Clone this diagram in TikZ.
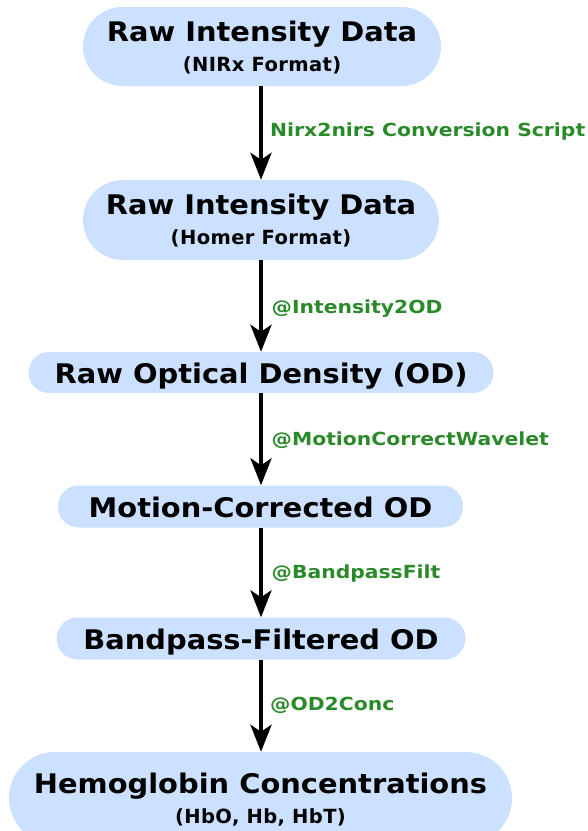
\documentclass[tikz,border=0pt]{standalone}
\usepackage{fontspec}
\setmainfont{DejaVu Sans}
\newfontfamily\titlefam{DejaVu Sans}[FakeStretch=1.07]
\newfontfamily\subfam{DejaVu Sans}[LetterSpace=2]
\newfontfamily\stepfam{DejaVu Sans}[FakeStretch=1.13]
\usetikzlibrary{arrows.meta}
\definecolor{boxfill}{HTML}{CCE0FF}
\definecolor{steplabel}{HTML}{2A8A2A}
\begin{document}
\begin{tikzpicture}[x=1pt,y=-1pt,
  stagebox/.style={fill=boxfill, draw=none, rounded corners=#1, inner sep=0pt},
  stagetitle/.style={anchor=base, inner sep=0pt, text=black, font=\titlefam\bfseries\fontsize{27}{30}\selectfont},
  stagesub/.style={anchor=base, inner sep=0pt, text=black, font=\subfam\bfseries\fontsize{19.5}{22}\selectfont},
  flow/.style={line width=4pt, -{Stealth[length=27pt,width=21pt,inset=7pt]}},
  steptext/.style={anchor=base west, text=steplabel, inner sep=0pt, font=\stepfam\bfseries\fontsize{18}{21}\selectfont}
]
\useasboundingbox (0,0) rectangle (588,831);

% stages of the processing pipeline
\node[stagebox=39.5pt, minimum width=358pt, minimum height=79pt] (raw) at (262,46.5) {};
\node[stagetitle] (rawT) at (262,41) {Raw Intensity Data};
\node[stagesub] (rawS) at (262,71) {(NIRx Format)};

\node[stagebox=40pt, minimum width=356pt, minimum height=80pt] (homer) at (261,220) {};
\node[stagetitle] (homerT) at (261,214.5) {Raw Intensity Data};
\node[stagesub] (homerS) at (261,244.5) {(Homer Format)};

\node[stagebox=20.5pt, minimum width=465pt, minimum height=41pt] (od) at (261,372.5) {};
\node[stagetitle] (odT) at (261,383) {Raw Optical Density (OD)};

\node[stagebox=20.5pt, minimum width=405pt, minimum height=42pt] (mc) at (260.5,506.5) {};
\node[stagetitle] (mcT) at (260.5,517) {Motion-Corrected OD};

\node[stagebox=21pt, minimum width=409pt, minimum height=42pt] (bp) at (261,638.5) {};
\node[stagetitle] (bpT) at (261,649) {Bandpass-Filtered OD};

\node[stagebox=46pt, minimum width=503pt, minimum height=92pt] (hb) at (260.5,798) {};
\node[stagetitle] (hbT) at (260.5,793) {Hemoglobin Concentrations};
\node[stagesub] (hbS) at (260.5,823) {(HbO, Hb, HbT)};

% transitions between stages
\draw[flow] (raw.south -| 261,0) -- (homer.north -| 261,0);
\draw[flow] (homer.south -| 261,0) -- (od.north -| 261,0);
\draw[flow] (od.south -| 261,0) -- (mc.north -| 261,0);
\draw[flow] (mc.south -| 261,0) -- (bp.north -| 261,0);
\draw[flow] (bp.south -| 261,0) -- (hb.north -| 261,0);

% processing functions
\node[steptext] (l1) at (270,136.7) {Nirx2nirs Conversion Script};
\node[steptext] (l2) at (271.5,313) {@Intensity2OD};
\node[steptext] (l3) at (271.5,445) {@MotionCorrectWavelet};
\node[steptext] (l4) at (271.5,578) {@BandpassFilt};
\node[steptext] (l5) at (270,710.7) {@OD2Conc};
\end{tikzpicture}
\end{document}
